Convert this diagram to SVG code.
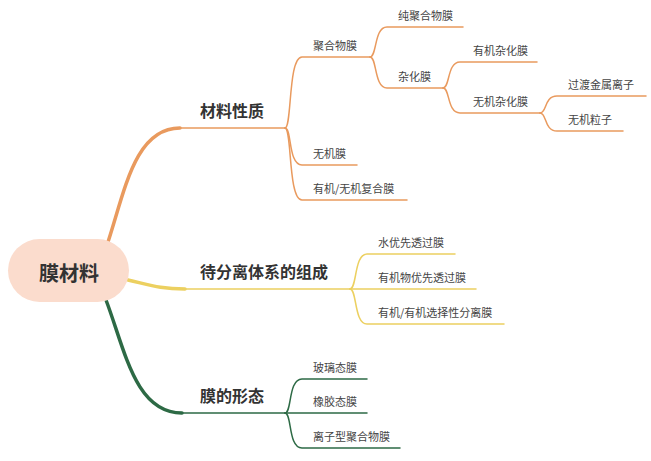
<svg xmlns="http://www.w3.org/2000/svg" width="651" height="461" viewBox="0 0 651 461">
<style>
.t{font-family:"Noto Sans CJK SC","Noto Sans",sans-serif;font-size:11px;fill:#444}
.h{font-family:"Noto Sans CJK SC","Noto Sans",sans-serif;font-size:16px;font-weight:bold;fill:#333}
.r{font-family:"Noto Sans CJK SC","Noto Sans",sans-serif;font-size:20px;font-weight:bold;fill:#333}
.o{stroke:#e99a5e;fill:none;stroke-width:1.5;stroke-linecap:round}
.y{stroke:#ecd060;fill:none;stroke-width:1.5;stroke-linecap:round}
.g{stroke:#2d6a45;fill:none;stroke-width:1.5;stroke-linecap:round}
</style>
<rect width="651" height="461" fill="#fff"/>
<g id="connectors">
<path class="o" style="stroke-width:3.5" d="M108,242 C125,190 135,128 180,128"/>
<path class="o" d="M178,128 L285,128"/>
<path class="y" style="stroke-width:3.5" d="M128,280 C150,285 160,289 185,289"/>
<path class="y" d="M183,289 L350,289"/>
<path class="g" style="stroke-width:3.5" d="M106,300 C125,350 135,413 182,413"/>
<path class="g" d="M180,413 L285,413"/>
<!-- 材料性质 children -->
<path class="o" d="M285,128 C292,128 288,57 302,57 L370,57"/>
<path class="o" d="M285,128 C292,128 288,165 302,165 L357,165"/>
<path class="o" d="M285,128 C292,128 288,200 302,200 L407,200"/>
<!-- 聚合物膜 children -->
<path class="o" d="M370,57 C377,57 374,27 387,27 L463,27"/>
<path class="o" d="M370,57 C377,57 374,88 387,88 L443,88"/>
<!-- 杂化膜 children -->
<path class="o" d="M443,88 C450,88 447,62 460,62 L537,62"/>
<path class="o" d="M443,88 C450,88 447,113 460,113 L540,113"/>
<!-- 无机杂化膜 children -->
<path class="o" d="M540,113 C547,113 544,96 557,96 L646,96"/>
<path class="o" d="M540,113 C547,113 544,131 557,131 L623,131"/>
<!-- yellow children -->
<path class="y" d="M350,289 C357,289 354,254 367,254 L455,254"/>
<path class="y" d="M350,289 L476,289"/>
<path class="y" d="M350,289 C357,289 354,324 367,324 L504,324"/>
<!-- green children -->
<path class="g" d="M285,413 C292,413 288,379 302,379 L367,379"/>
<path class="g" d="M285,413 L367,413"/>
<path class="g" d="M285,413 C292,413 288,448 302,448 L400,448"/>
</g>
<g id="root">
<rect x="8" y="239" width="121" height="63" rx="31.5" fill="#fbdccd"/>
<text class="r" x="69" y="281" text-anchor="middle">膜材料</text>
</g>
<g id="n-cailiao"><text class="h" x="200" y="117">材料性质</text></g>
<g id="n-juhewu"><text class="t" x="313" y="50">聚合物膜</text></g>
<g id="n-chun"><text class="t" x="398" y="20">纯聚合物膜</text></g>
<g id="n-zahua"><text class="t" x="398" y="81">杂化膜</text></g>
<g id="n-youjizahua"><text class="t" x="473" y="55">有机杂化膜</text></g>
<g id="n-wujizahua"><text class="t" x="473" y="106">无机杂化膜</text></g>
<g id="n-guodu"><text class="t" x="568" y="89">过渡金属离子</text></g>
<g id="n-lizi"><text class="t" x="568" y="124">无机粒子</text></g>
<g id="n-wujimo"><text class="t" x="313" y="158">无机膜</text></g>
<g id="n-fuhe"><text class="t" x="313" y="193">有机/无机复合膜</text></g>
<g id="n-daifenli"><text class="h" x="200" y="278">待分离体系的组成</text></g>
<g id="n-shui"><text class="t" x="378" y="247">水优先透过膜</text></g>
<g id="n-youjiwu"><text class="t" x="378" y="282">有机物优先透过膜</text></g>
<g id="n-xuanze"><text class="t" x="378" y="317">有机/有机选择性分离膜</text></g>
<g id="n-xingtai"><text class="h" x="200" y="402">膜的形态</text></g>
<g id="n-boli"><text class="t" x="313" y="372">玻璃态膜</text></g>
<g id="n-xiangjiao"><text class="t" x="313" y="406">橡胶态膜</text></g>
<g id="n-lizixing"><text class="t" x="313" y="441">离子型聚合物膜</text></g>
</svg>
